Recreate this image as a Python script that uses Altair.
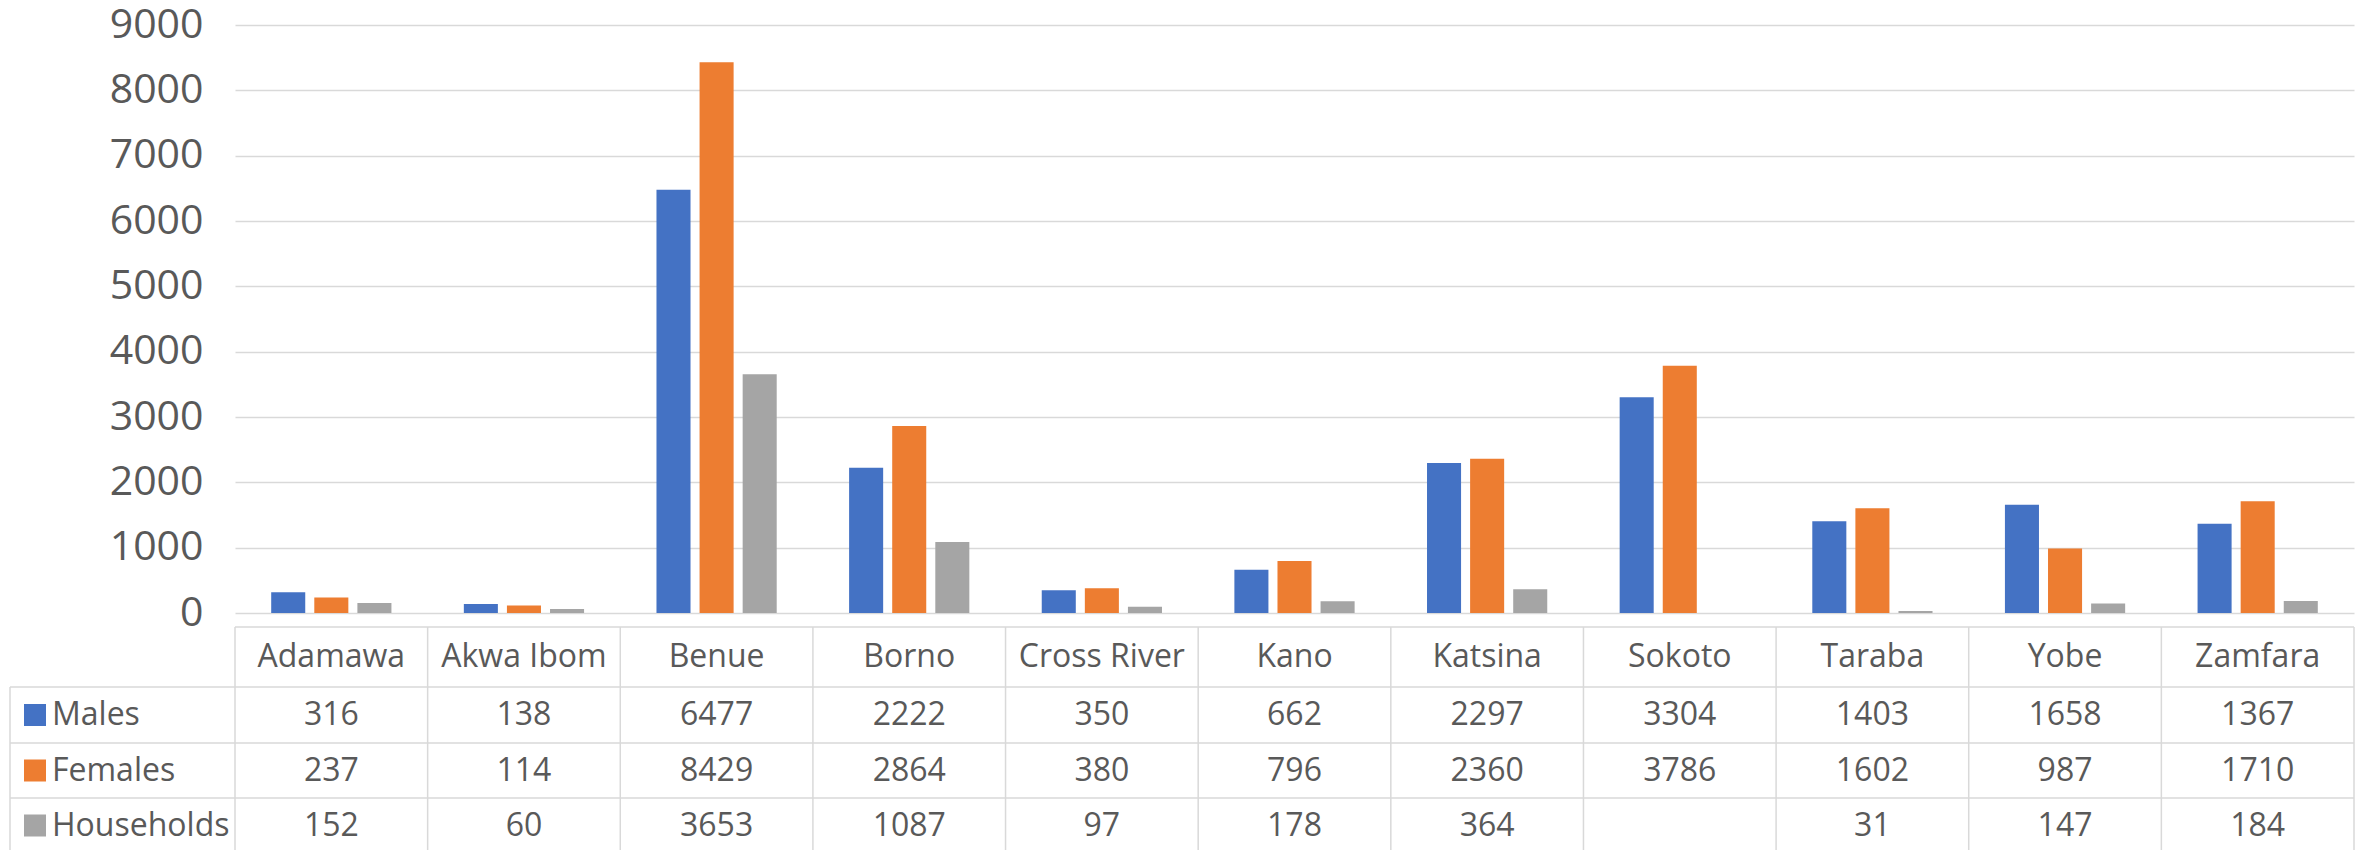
import altair as alt
import pandas as pd

states = ["Adamawa", "Akwa Ibom", "Benue", "Borno", "Cross River", "Kano",
          "Katsina", "Sokoto", "Taraba", "Yobe", "Zamfara"]
series = ["Males", "Females", "Households"]
males = [316, 138, 6477, 2222, 350, 662, 2297, 3304, 1403, 1658, 1367]
females = [237, 114, 8429, 2864, 380, 796, 2360, 3786, 1602, 987, 1710]
households = [152, 60, 3653, 1087, 97, 178, 364, None, 31, 147, 184]
colors = ["#4472C4", "#ED7D31", "#A5A5A5"]
y_ticks = list(range(0, 9001, 1000))

rows = []
for s, vals in zip(series, [males, females, households]):
    for st, v in zip(states, vals):
        rows.append({"State": st, "Series": s, "Value": v})
df = pd.DataFrame(rows)
states_df = pd.DataFrame({"State": states})
series_df = pd.DataFrame({"Series": series})

W, H = 2119, 588
FONT = "Open Sans"
TXT = "#595959"
GRID = "#d9d9d9"
GW = 1.5

xscale = alt.Scale(domain=states, paddingInner=0, paddingOuter=0)
x_enc = alt.X("State:N", sort=states, scale=xscale, axis=None)
color_enc = alt.Color("Series:N", sort=series,
                      scale=alt.Scale(domain=series, range=colors), legend=None)

bars = alt.Chart(df).mark_bar().encode(
    x=x_enc,
    xOffset=alt.XOffset("Series:N", sort=series,
                        scale=alt.Scale(domain=series, paddingInner=0.21, paddingOuter=0.84)),
    y=alt.Y("Value:Q",
            scale=alt.Scale(domain=[0, 9000], nice=False),
            axis=alt.Axis(values=y_ticks, format="d", title=None, grid=True, gridColor=GRID,
                          gridWidth=GW, ticks=False, domain=False, labelFont=FONT,
                          labelFontSize=41, labelColor=TXT, labelPadding=32)),
    color=color_enc,
)

layers = [bars]

# table grid lines
dummy = pd.DataFrame({"a": [0]})
layers.append(alt.Chart(states_df).mark_rule(color=GRID, strokeWidth=GW).encode(
    x=alt.X("State:N", sort=states, scale=xscale, axis=None, bandPosition=0),
    y=alt.value(602), y2=alt.value(900)))
layers.append(alt.Chart(states_df.iloc[-1:]).mark_rule(color=GRID, strokeWidth=GW).encode(
    x=alt.X("State:N", sort=states, scale=xscale, axis=None, bandPosition=1),
    y=alt.value(602), y2=alt.value(900)))
layers.append(alt.Chart(dummy).mark_rule(color=GRID, strokeWidth=GW).encode(
    x=alt.value(0), x2=alt.value(W), y=alt.value(602)))
for yy in [662, 718, 773, 828]:
    layers.append(alt.Chart(dummy).mark_rule(color=GRID, strokeWidth=GW).encode(
        x=alt.value(-225), x2=alt.value(W), y=alt.value(yy)))
layers.append(alt.Chart(dummy).mark_rule(color=GRID, strokeWidth=GW).encode(
    x=alt.value(-225), y=alt.value(662), y2=alt.value(900)))

# header row
layers.append(alt.Chart(states_df).mark_text(font=FONT, fontSize=32, color=TXT,
                                             baseline="middle").encode(
    x=x_enc, y=alt.value(632), text="State:N"))

row_y = {"Males": 690, "Females": 745.5, "Households": 800.5}
for s in series:
    ry = row_y[s]
    layers.append(alt.Chart(df).transform_filter(
        (alt.datum.Series == s) & alt.expr.isValid(alt.datum.Value)
    ).mark_text(font=FONT, fontSize=32, color=TXT, baseline="middle").encode(
        x=x_enc, y=alt.value(ry), text=alt.Text("Value:Q", format="d")))
    sd = series_df[series_df.Series == s]
    layers.append(alt.Chart(sd).mark_square(size=484, opacity=1, filled=True).encode(
        x=alt.value(-200), y=alt.value(ry), color=color_enc))
    layers.append(alt.Chart(sd).mark_text(font=FONT, fontSize=32, color=TXT,
                                          align="left", baseline="middle").encode(
        x=alt.value(-183), y=alt.value(ry), text="Series:N"))

chart = alt.layer(*layers).properties(
    width=W, height=H,
    padding={"left": 227, "top": 17, "right": 1, "bottom": 237},
    autosize=alt.AutoSizeParams(type="none"),
).configure_view(stroke=None)

chart.save("out.html", embed_options={"renderer": "svg", "actions": False})
